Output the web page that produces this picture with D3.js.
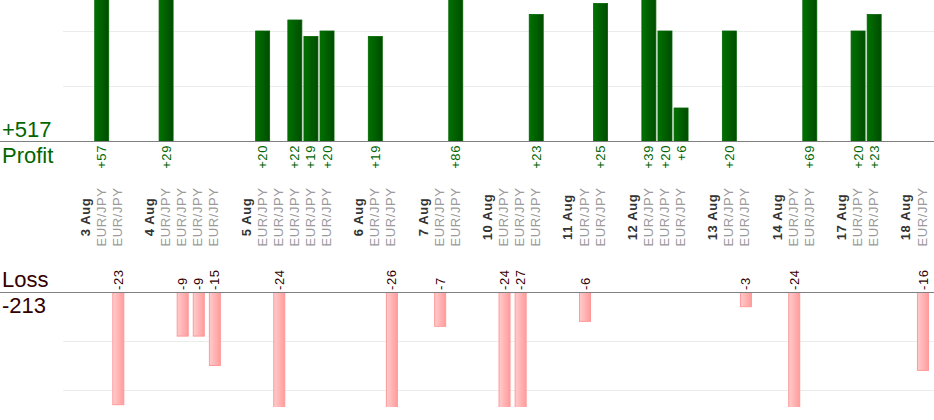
<!DOCTYPE html>
<html>
<head>
<meta charset="utf-8">
<script src="https://cdn.jsdelivr.net/npm/d3@7"></script>
<style>
    body{margin:0;padding:0;background:#fff;}
    svg{display:block;font-family:"Liberation Sans",Arial,sans-serif;}
</style>
</head>
<body>
<div id="chart"></div>
<script>
// days shown on the axis and number of trades on each of them
var days = ["3 Aug","4 Aug","5 Aug","6 Aug","7 Aug","10 Aug","11 Aug","12 Aug","13 Aug","14 Aug","17 Aug","18 Aug"];
var tradesPerDay = [2,4,5,2,2,3,2,3,2,2,2,1];
var pairs = ["EUR/JPY","EUR/JPY","EUR/JPY","EUR/JPY","EUR/JPY","EUR/JPY","EUR/JPY","EUR/JPY","EUR/JPY","EUR/JPY",
             "EUR/JPY","EUR/JPY","EUR/JPY","EUR/JPY","EUR/JPY","EUR/JPY","EUR/JPY","EUR/JPY","EUR/JPY","EUR/JPY",
             "EUR/JPY","EUR/JPY","EUR/JPY","EUR/JPY","EUR/JPY","EUR/JPY","EUR/JPY","EUR/JPY","EUR/JPY","EUR/JPY"];
var results = [57,-23, 29,-9,-9,-15, 20,-24,22,19,20, 19,-26, -7,86, -24,-27,23, -6,25, 39,20,6, 20,-3, -24,69, 20,23, -16];
var gridTicks = [10,20];

var width = 934, height = 420;
var profitBase = 141, profitTop = 0;
var lossBase = 292, lossBottom = 407;
var labelSize = "13px", labelSpacing = "0.6px";

// build the column list: a spacer, the day label, then one column per trade
var columns = [];
var t = 0;
for(var i=0;i<days.length;i++){
    columns.push({id:"gap"+i,type:"gap"});
    columns.push({id:"day"+i,type:"day",label:days[i]});
    for(var j=0;j<tradesPerDay[i];j++){
        columns.push({id:"tr"+t,type:"trade",label:pairs[t],value:results[t]});
        t++;
    }
}
var trades = columns.filter(function(c){return c.type=="trade";});

var x = d3.scaleBand().domain(columns.map(function(c){return c.id;})).range([61,930]);
var cx = function(id){return x(id)+x.bandwidth()/2;};
var yP = d3.scaleLinear().domain([0,10]).range([profitBase,profitBase-55]);
var yL = d3.scaleLinear().domain([0,10]).range([lossBase,lossBase+49]);

var svg = d3.select("#chart").append("svg")
    .attr("width",width)
    .attr("height",height);

var defs = svg.append("defs");
var gp = defs.append("linearGradient").attr("id","gProfit");
gp.append("stop").attr("offset","0%").attr("stop-color","#007200");
gp.append("stop").attr("offset","100%").attr("stop-color","#004c00");
var gl = defs.append("linearGradient").attr("id","gLoss");
gl.append("stop").attr("offset","0%").attr("stop-color","#ffcccc");
gl.append("stop").attr("offset","100%").attr("stop-color","#ff9c9c");
defs.append("clipPath").attr("id","clipP").append("rect")
    .attr("x",0).attr("y",profitTop).attr("width",width).attr("height",profitBase-profitTop);
defs.append("clipPath").attr("id","clipL").append("rect")
    .attr("x",0).attr("y",lossBase).attr("width",width).attr("height",lossBottom-lossBase);

// grid lines
svg.append("g")
    .attr("transform","translate(934,0)")
    .call(d3.axisLeft(yP).tickValues(gridTicks).tickSize(934-63).tickFormat(""))
    .call(function(g){g.select(".domain").remove(); g.selectAll("line").attr("stroke","#ececec");});
svg.append("g")
    .attr("transform","translate(934,0)")
    .call(d3.axisLeft(yL).tickValues(gridTicks).tickSize(934-63).tickFormat(""))
    .call(function(g){g.select(".domain").remove(); g.selectAll("line").attr("stroke","#ececec");});

// profit bars
svg.append("g").attr("clip-path","url(#clipP)")
    .selectAll("rect").data(trades.filter(function(d){return d.value>0;}))
    .enter().append("rect")
    .attr("x",function(d){return cx(d.id)-6.5;})
    .attr("width",14)
    .attr("y",function(d){return yP(d.value);})
    .attr("height",function(d){return profitBase-yP(d.value);})
    .attr("fill","url(#gProfit)")
    .attr("stroke","#006200")
    .attr("stroke-width",0.8);

// loss bars
svg.append("g").attr("clip-path","url(#clipL)")
    .selectAll("rect").data(trades.filter(function(d){return d.value<0;}))
    .enter().append("rect")
    .attr("x",function(d){return cx(d.id)-4.5;})
    .attr("width",11)
    .attr("y",lossBase)
    .attr("height",function(d){return yL(-d.value)-lossBase;})
    .attr("fill","url(#gLoss)")
    .attr("stroke","#ff9999")
    .attr("stroke-width",1);

// base lines
svg.append("line").attr("x1",0).attr("x2",width).attr("y1",profitBase+0.5).attr("y2",profitBase+0.5)
    .attr("stroke","#808080").attr("stroke-width",1.2);
svg.append("line").attr("x1",0).attr("x2",width).attr("y1",lossBase+0.5).attr("y2",lossBase+0.5)
    .attr("stroke","#808080").attr("stroke-width",1.2);

// value labels
svg.append("g").selectAll("text").data(trades.filter(function(d){return d.value>0;}))
    .enter().append("text")
    .attr("transform",function(d){return "translate("+(cx(d.id)+0.5)+","+(profitBase+4)+") rotate(-90)";})
    .attr("dy","0.35em")
    .attr("text-anchor","end")
    .style("font-size",labelSize).style("letter-spacing",labelSpacing)
    .attr("fill","#006600")
    .text(function(d){return "+"+d.value;});
svg.append("g").selectAll("text").data(trades.filter(function(d){return d.value<0;}))
    .enter().append("text")
    .attr("transform",function(d){return "translate("+(cx(d.id)+1)+","+(lossBase-2)+") rotate(-90)";})
    .attr("dy","0.35em")
    .attr("text-anchor","start")
    .style("font-size",labelSize).style("letter-spacing",labelSpacing)
    .attr("fill","#330000")
    .text(function(d){return d.value;});

// category labels
svg.append("g").selectAll("text").data(columns.filter(function(c){return c.type!="gap";}))
    .enter().append("text")
    .attr("transform",function(d){return "translate("+cx(d.id)+",217) rotate(-90)";})
    .attr("dy","0.35em")
    .attr("text-anchor","middle")
    .style("font-size",labelSize).style("letter-spacing",labelSpacing)
    .style("font-weight",function(d){return d.type=="day"?"bold":"normal";})
    .attr("fill",function(d){return d.type=="day"?"#333333":"#9a9a9a";})
    .text(function(d){return d.label;});

// totals on the left
var totalProfit = d3.sum(results.filter(function(v){return v>0;}));
var totalLoss = d3.sum(results.filter(function(v){return v<0;}));
svg.append("text").attr("x",2).attr("y",137).style("font-size","22px").attr("fill","#006600").text("+"+totalProfit);
svg.append("text").attr("x",2).attr("y",163).style("font-size","22px").attr("fill","#006600").text("Profit");
svg.append("text").attr("x",2).attr("y",287).style("font-size","22px").attr("fill","#330000").text("Loss");
svg.append("text").attr("x",2).attr("y",313).style("font-size","22px").attr("fill","#330000").text(totalLoss);
</script>
</body>
</html>
